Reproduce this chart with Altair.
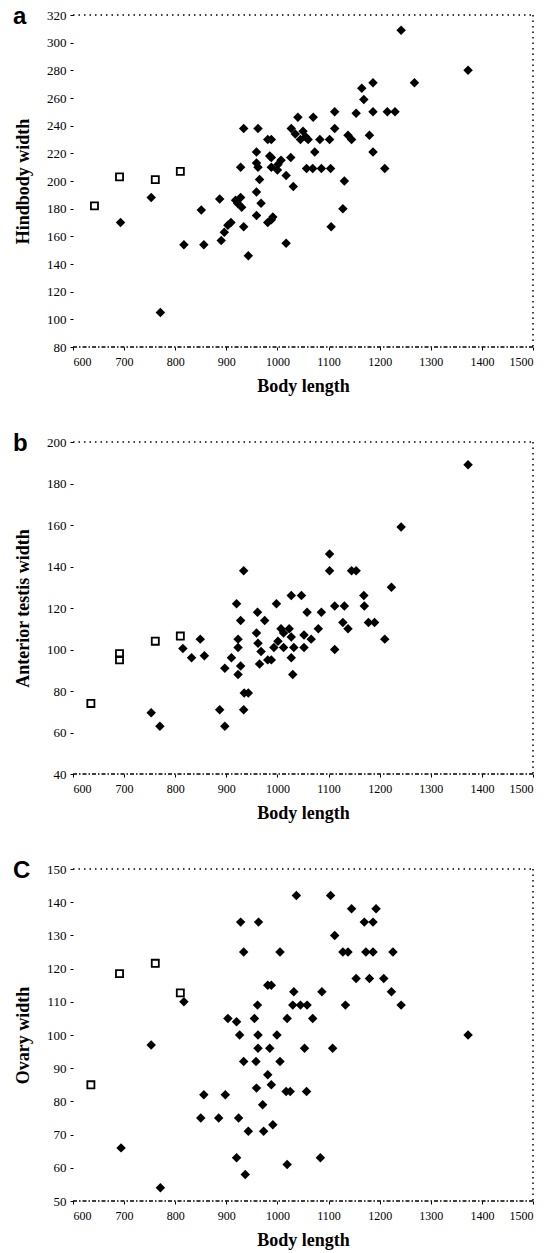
import altair as alt
import pandas as pd

# ---------------- data ----------------
# Panel a : Hindbody width vs body length
a_fill_len = [693, 753, 771, 817, 851, 856, 887, 890, 896, 903, 909, 918, 922, 928, 930, 934, 943,
              928, 934, 959, 959, 962, 962, 965, 959, 968, 959, 981, 981, 985, 988, 988, 988, 988,
              991, 1001, 1000, 1007, 1017, 1017, 1026, 1031, 1027, 1035, 1040, 1045, 1050, 1055,
              1060, 1057, 1069, 1070, 1073, 1083, 1086, 1102, 1104, 1105, 1112, 1112, 1128, 1131,
              1138, 1145, 1154, 1165, 1169, 1180, 1187, 1187, 1187, 1210, 1215, 1230, 1242, 1268, 1373]
a_fill_val = [170, 188, 105, 154, 179, 154, 187, 157, 163, 168, 170, 186, 184, 188, 181, 167, 146,
              210, 238, 221, 213, 238, 210, 201, 192, 184, 175, 230, 170, 218, 172, 230, 217, 210,
              174, 212, 208, 215, 204, 155, 217, 196, 238, 234, 246, 230, 236, 232,
              230, 209, 209, 246, 221, 230, 209, 230, 209, 167, 250, 238, 180, 200,
              233, 230, 249, 267, 259, 233, 271, 250, 221, 209, 250, 250, 309, 271, 280]
a_open_len = [642, 691, 761, 810]
a_open_val = [182, 203, 201, 207]

# Panel b : Anterior testis width vs body length
b_fill_len = [753, 770, 815, 832, 849, 857, 887, 897, 897, 910, 920, 923, 923, 923, 928, 928, 934,
              935, 943, 934, 959, 961, 962, 965, 968, 975, 981, 988, 993, 998, 1001, 1007, 1012,
              1012, 1023, 1027, 1027, 1027, 1030, 1032, 1047, 1052, 1052, 1058, 1066, 1080, 1086,
              1102, 1102, 1112, 1112, 1128, 1131, 1138, 1145, 1154, 1169, 1170, 1178, 1190, 1210,
              1223, 1242, 1373]
b_fill_val = [69.5, 63, 100.5, 96, 105, 97, 71, 63, 91, 96, 122, 105, 101, 88, 92, 114, 138,
              79, 79, 71, 108, 118, 103, 93, 99, 114, 95, 95, 101, 122, 104, 110, 108,
              101, 110, 106, 126, 96, 88, 101, 126, 107, 101, 118, 105, 110, 118,
              146, 138, 121, 100, 113, 121, 110, 138, 138, 126, 121, 113, 113, 105,
              130, 159, 189]
b_open_len = [635, 691, 691, 761, 810]
b_open_val = [74, 98, 95, 104, 106.5]

# Panel c : Ovary width vs body length
c_fill_len = [694, 753, 771, 817, 850, 856, 885, 898, 903, 920, 920, 924, 926, 928, 934, 934, 937,
              943, 955, 958, 959, 961, 962, 962, 963, 971, 973, 981, 981, 985, 988, 988, 991, 999,
              1005, 1005, 1017, 1019, 1019, 1025, 1030, 1032, 1037, 1045, 1053, 1057, 1058, 1069,
              1084, 1087, 1104, 1108, 1112, 1128, 1133, 1138, 1145, 1154, 1170, 1173, 1180, 1187,
              1187, 1193, 1208, 1223, 1226, 1242, 1373]
c_fill_val = [66, 97, 54, 110, 75, 82, 75, 82, 105, 104, 63, 75, 100, 134, 125, 92, 58,
              71, 105, 92, 84, 109, 100, 96, 134, 79, 71, 115, 88, 96, 115, 85, 73, 100,
              125, 92, 83, 105, 61, 83, 109, 113, 142, 109, 96, 83, 109, 105,
              63, 113, 142, 96, 130, 125, 109, 125, 138, 117, 134, 125, 117, 134,
              125, 138, 117, 113, 125, 109, 100]
c_open_len = [635, 691, 761, 810]
c_open_val = [85, 118.5, 121.6, 112.7]

x_ticks = [600, 700, 800, 900, 1000, 1100, 1200, 1300, 1400, 1500]
a_ticks = [80, 100, 120, 140, 160, 180, 200, 220, 240, 260, 280, 300, 320]
b_ticks = [40, 60, 80, 100, 120, 140, 160, 180, 200]
c_ticks = [50, 60, 70, 80, 90, 100, 110, 120, 130, 140, 150]

W, H = 460, 332
SERIF = "Liberation Serif"


def panel(fl, fv, ol, ov, ytitle, yticks, letter):
    df = pd.DataFrame({
        "len": fl + ol,
        "val": fv + ov,
        "grp": ["fill"] * len(fl) + ["open"] * len(ol),
    })
    xenc = alt.X("len:Q",
                 scale=alt.Scale(domain=[600, 1500], nice=False, zero=False),
                 axis=alt.Axis(values=x_ticks, format="d", title="Body length", domain=False,
                               grid=False, tickSize=3, tickColor="black",
                               labelFont=SERIF, labelFontSize=12, labelColor="black",
                               labelPadding=6, titleFont=SERIF, titleFontSize=18,
                               titleFontWeight="bold", titleColor="black", titlePadding=10))
    yenc = alt.Y("val:Q",
                 scale=alt.Scale(domain=[yticks[0], yticks[-1]], nice=False, zero=False),
                 axis=alt.Axis(values=yticks, format="d", title=ytitle, domain=False, grid=False,
                               tickSize=3, tickColor="black", labelFont=SERIF,
                               labelFontSize=13, labelColor="black", labelPadding=4,
                               titleFont=SERIF, titleFontSize=18, titleFontWeight="bold",
                               titleColor="black", titlePadding=14))
    base = alt.Chart(df).encode(x=xenc, y=yenc)
    filled = base.transform_filter(alt.datum.grp == "fill").mark_point(
        shape="diamond", filled=True, size=90, color="black", opacity=1)
    opened = base.transform_filter(alt.datum.grp == "open").mark_point(
        shape="square", filled=False, size=50, color="black", strokeWidth=1.8, opacity=1)

    one = pd.DataFrame({"k": [0]})
    dash = [1.5, 4]
    top = alt.Chart(one).mark_rule(color="black", strokeDash=dash, strokeWidth=1.5).encode(
        x=alt.value(0), x2=alt.value(W), y=alt.value(0))
    right = alt.Chart(one).mark_rule(color="black", strokeDash=dash, strokeWidth=1.5).encode(
        x=alt.value(W), y=alt.value(0), y2=alt.value(H))
    bottom = alt.Chart(one).mark_rule(color="black", strokeDash=[4, 2, 1.5, 2], strokeWidth=1.5).encode(
        x=alt.value(0), x2=alt.value(W), y=alt.value(H))
    lab = alt.Chart(one).mark_text(text=letter, font="Liberation Sans", fontWeight="bold",
                                   fontSize=24, align="left", baseline="alphabetic",
                                   color="black").encode(x=alt.value(-60), y=alt.value(9))
    return alt.layer(top, right, bottom, filled, opened, lab).properties(width=W, height=H)


pa = panel(a_fill_len, a_fill_val, a_open_len, a_open_val, "Hindbody width", a_ticks, "a")
pb = panel(b_fill_len, b_fill_val, b_open_len, b_open_val, "Anterior testis width", b_ticks, "b")
pc = panel(c_fill_len, c_fill_val, c_open_len, c_open_val, "Ovary width", c_ticks, "C")

chart = alt.vconcat(pa, pb, pc, spacing=37).configure_view(stroke=None).properties(
    padding={"left": 13, "top": 5, "right": 5, "bottom": 5},
    background="white")

chart.save("out.html", embed_options={"renderer": "svg", "actions": False})
